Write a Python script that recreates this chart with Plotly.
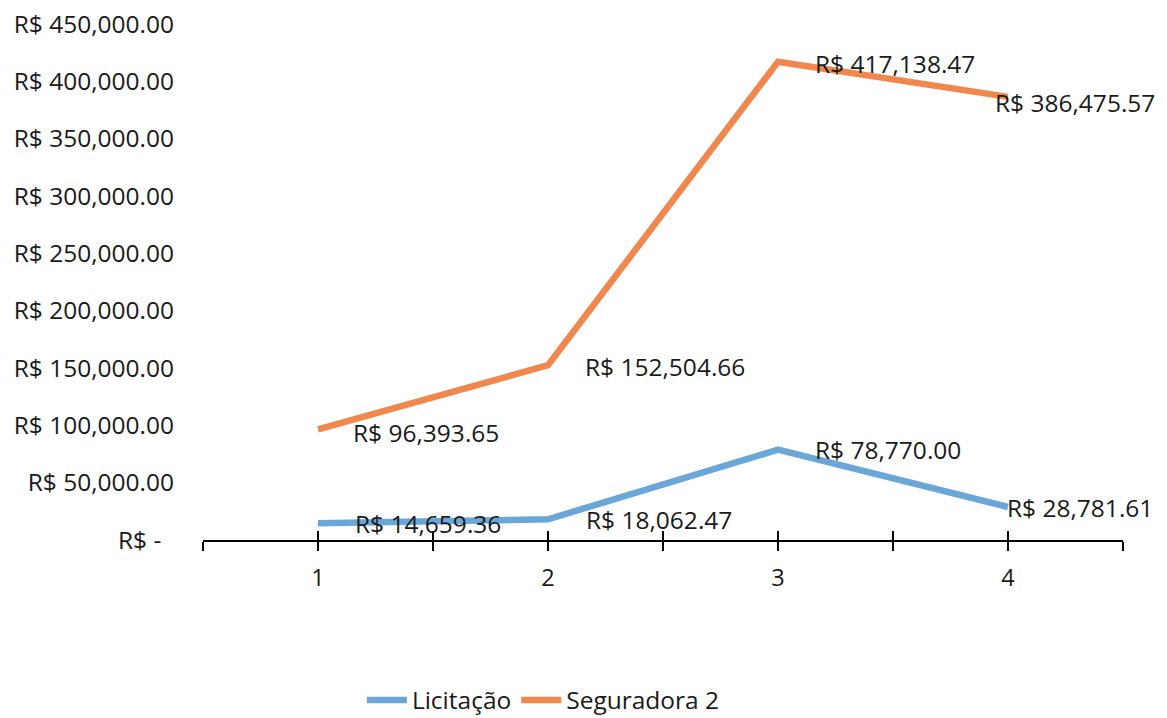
import plotly.graph_objects as go

categories = [1, 2, 3, 4]
licitacao = [14659.36, 18062.47, 78770.00, 28781.61]
seguradora = [96393.65, 152504.66, 417138.47, 386475.57]
series_names = ["Licitação", "Seguradora 2"]
y_tick_vals = [0, 50000, 100000, 150000, 200000, 250000, 300000, 350000, 400000, 450000]
y_tick_text = ["R$ -\u00a0\u00a0", "R$ 50,000.00", "R$ 100,000.00", "R$ 150,000.00", "R$ 200,000.00",
               "R$ 250,000.00", "R$ 300,000.00", "R$ 350,000.00", "R$ 400,000.00", "R$ 450,000.00"]

BLUE = "#6aa7d8"
ORANGE = "#f0884e"
FONT = "Open Sans"
TXT = "#1a1a1a"
FS = 24.5

def fmt(v):
    return "R$ {:,.2f}".format(v)

fig = go.Figure()
fig.add_trace(go.Scatter(x=categories, y=licitacao, mode="lines", name=series_names[0],
                         line=dict(color=BLUE, width=6.5)))
fig.add_trace(go.Scatter(x=categories, y=seguradora, mode="lines", name=series_names[1],
                         line=dict(color=ORANGE, width=6.5)))
# invisible trace for the overlay axis (inner tick marks)
fig.add_trace(go.Scatter(x=[0.5, 4.5], y=[0, 0], xaxis="x2", mode="lines",
                         line=dict(width=0), showlegend=False, hoverinfo="skip"))

# label offsets (pixels) per point
lic_dx = [35, 36, 35, -3]
lic_dy = [0, 0, 0, 0]
seg_dx = [33, 35, 35, -15]
seg_dy = [-3, -1, -2, -6]

annotations = []
for vals, dxs, dys in [(licitacao, lic_dx, lic_dy), (seguradora, seg_dx, seg_dy)]:
    for c, v, dx, dy in zip(categories, vals, dxs, dys):
        annotations.append(dict(x=c, y=v, text=fmt(v), showarrow=False, xanchor="left",
                                yanchor="middle", xshift=dx, yshift=dy,
                                font=dict(family=FONT, size=FS, color=TXT)))

tv = [0.5, 1, 1.5, 2, 2.5, 3, 3.5, 4, 4.5]
tt = ["" if t != int(t) else str(int(t)) for t in tv]

fig.update_layout(
    width=1159, height=710,
    margin=dict(l=195, r=44, t=16, b=178, autoexpand=False),
    paper_bgcolor="white", plot_bgcolor="white",
    font=dict(family=FONT, size=FS, color=TXT),
    showlegend=True,
    legend=dict(orientation="h", x=0.37, xanchor="center", y=-0.31, yanchor="middle",
                font=dict(family=FONT, size=FS, color=TXT), itemwidth=40, tracegroupgap=0),
    xaxis=dict(range=[0.5, 4.5], tickvals=tv, ticktext=tt, showgrid=False, zeroline=False,
               showline=True, linecolor="black", linewidth=1.5, ticks="outside", ticklen=9,
               tickwidth=1.5, tickcolor="black", ticklabelstandoff=7, automargin=False,
               tickfont=dict(family=FONT, size=FS - 1, color=TXT)),
    xaxis2=dict(range=[0.5, 4.5], overlaying="x", anchor="y", side="bottom", tickvals=tv,
                showticklabels=False, showgrid=False, zeroline=False, showline=False,
                ticks="inside", ticklen=9, tickwidth=1.5, tickcolor="black", automargin=False),
    yaxis=dict(range=[0, 450000], tickvals=y_tick_vals, ticktext=y_tick_text, showgrid=False,
               zeroline=False, showline=False, ticks="", ticklabelstandoff=28, automargin=False,
               ticklabeloverflow="allow", tickfont=dict(family=FONT, size=FS, color=TXT)),
    annotations=annotations,
)

fig.write_html("out.html")
